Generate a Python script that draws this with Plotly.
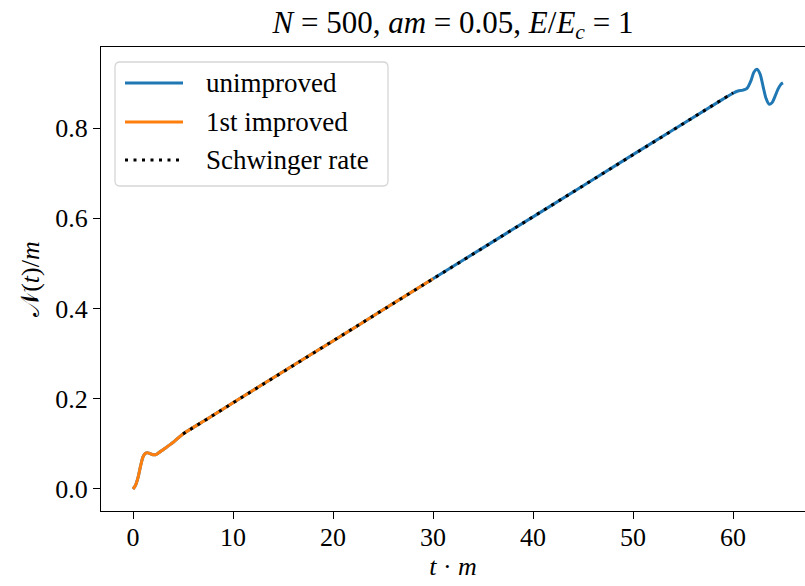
import plotly.graph_objects as go

# Particle number density N(t)/m versus t*m
t_unimproved = [0.0, 0.25, 0.5, 0.75, 1.0, 1.25, 1.5, 1.75, 2.0, 2.25, 2.5, 3.0, 3.5, 4.0, 5.0,
                7.5, 10, 15, 20, 25, 30, 40, 50, 59, 60, 60.5, 61.0, 61.4, 61.8, 62.1, 62.4,
                62.7, 63.0, 63.3, 63.6, 63.9, 64.2, 64.5, 64.8, 65.0]
n_unimproved = [0.0, 0.008, 0.025, 0.050, 0.071, 0.079, 0.080, 0.078, 0.076, 0.076, 0.079, 0.087,
                0.095, 0.103, 0.122, 0.156, 0.191, 0.260, 0.328, 0.397, 0.466, 0.603, 0.741,
                0.864, 0.877, 0.882, 0.884, 0.888, 0.905, 0.924, 0.930, 0.920, 0.893, 0.866,
                0.853, 0.856, 0.870, 0.886, 0.897, 0.900]

t_improved = [0.0, 0.25, 0.5, 0.75, 1.0, 1.25, 1.5, 1.75, 2.0, 2.25, 2.5, 3.0, 3.5, 4.0, 5.0,
              7.5, 10, 15, 20, 25, 30]
n_improved = [0.0, 0.008, 0.025, 0.050, 0.071, 0.079, 0.080, 0.078, 0.076, 0.076, 0.079, 0.087,
              0.095, 0.103, 0.122, 0.156, 0.191, 0.260, 0.328, 0.397, 0.466]

t_schwinger = [5, 60]
n_schwinger = [0.122, 0.878]

x_ticks = [0, 10, 20, 30, 40, 50, 60]
y_ticks = [0.0, 0.2, 0.4, 0.6, 0.8]
y_tick_text = ["0.0", "0.2", "0.4", "0.6", "0.8"]

legend_labels = ["unimproved", "1st improved", "Schwinger rate"]

BLUE = "#1f77b4"
ORANGE = "#ff7f0e"
FONT = "Liberation Serif"

W, H = 805, 586
L, R, T, B = 101, 805, 47, 511  # plot area in pixels


def px(x):
    return (x - L) / (R - L)


def py(y):
    return (B - y) / (B - T)


fig = go.Figure()
fig.add_trace(go.Scatter(x=t_unimproved, y=n_unimproved, mode="lines", name=legend_labels[0],
                         line=dict(color=BLUE, width=3, shape="spline", smoothing=0.8)))
fig.add_trace(go.Scatter(x=t_improved, y=n_improved, mode="lines", name=legend_labels[1],
                         line=dict(color=ORANGE, width=3, shape="spline", smoothing=0.8)))
fig.add_trace(go.Scatter(x=t_schwinger, y=n_schwinger, mode="lines", name=legend_labels[2],
                         line=dict(color="black", width=3, dash="3px,5.5px")))

# legend box drawn by hand so the handle length and spacing follow the serif layout
x0, x1, y0, y1, r = 115, 388, 62, 186, 5
path = (f"M {px(x0 + r)} {py(y0)} L {px(x1 - r)} {py(y0)} Q {px(x1)} {py(y0)} {px(x1)} {py(y0 + r)} "
        f"L {px(x1)} {py(y1 - r)} Q {px(x1)} {py(y1)} {px(x1 - r)} {py(y1)} "
        f"L {px(x0 + r)} {py(y1)} Q {px(x0)} {py(y1)} {px(x0)} {py(y1 - r)} "
        f"L {px(x0)} {py(y0 + r)} Q {px(x0)} {py(y0)} {px(x0 + r)} {py(y0)} Z")
shapes = [dict(type="path", xref="paper", yref="paper", path=path,
               line=dict(color="#d6d6d6", width=1.3), fillcolor="rgba(255,255,255,0.8)", layer="above")]
annotations = []
row_y = [83, 122, 160]
styles = [dict(color=BLUE, width=3), dict(color=ORANGE, width=3),
          dict(color="black", width=3, dash="3px,5.5px")]
for label, yy, st in zip(legend_labels, row_y, styles):
    shapes.append(dict(type="line", xref="paper", yref="paper", x0=px(125), x1=px(183),
                       y0=py(yy), y1=py(yy), line=st, layer="above"))
    annotations.append(dict(xref="paper", yref="paper", x=px(204), y=py(yy), xanchor="left",
                            yanchor="middle", text=label, showarrow=False,
                            font=dict(family=FONT, size=27, color="black")))

tick_font = dict(family=FONT, size=26, color="black")

fig.update_layout(
    width=W, height=H,
    margin=dict(l=L, r=W - R, t=T, b=H - B),
    paper_bgcolor="white", plot_bgcolor="white",
    showlegend=False,
    font=dict(family=FONT, size=26, color="black"),
    title=dict(text="<i>N</i> = 500, <i>am</i> = 0.05, <i>E</i>/<i>E<sub>c</sub></i> = 1",
               x=0.5, xref="paper", xanchor="center", y=1 - 22 / H, yref="container",
               yanchor="middle", font=dict(family=FONT, size=31, color="black")),
    xaxis=dict(range=[-3.2, 67.2], tickvals=x_ticks, ticks="outside", ticklen=7, tickwidth=1.2,
               tickcolor="black", showgrid=False, zeroline=False, showline=True, linecolor="black",
               linewidth=1.3, mirror=True, ticklabelstandoff=-4, tickfont=tick_font,
               title=dict(text="<i>t</i> · <i>m</i>", standoff=2, font=tick_font)),
    yaxis=dict(range=[-0.0488, 0.9795], tickvals=y_ticks, ticktext=y_tick_text, ticks="outside",
               ticklen=7, tickwidth=1.2, tickcolor="black", showgrid=False, zeroline=False,
               showline=True, linecolor="black", linewidth=1.3, tickfont=tick_font,
               title=dict(text="𝒩(<i>t</i>)/<i>m</i>", standoff=8, font=tick_font)),
    shapes=shapes, annotations=annotations,
)

fig.write_html("out.html")
